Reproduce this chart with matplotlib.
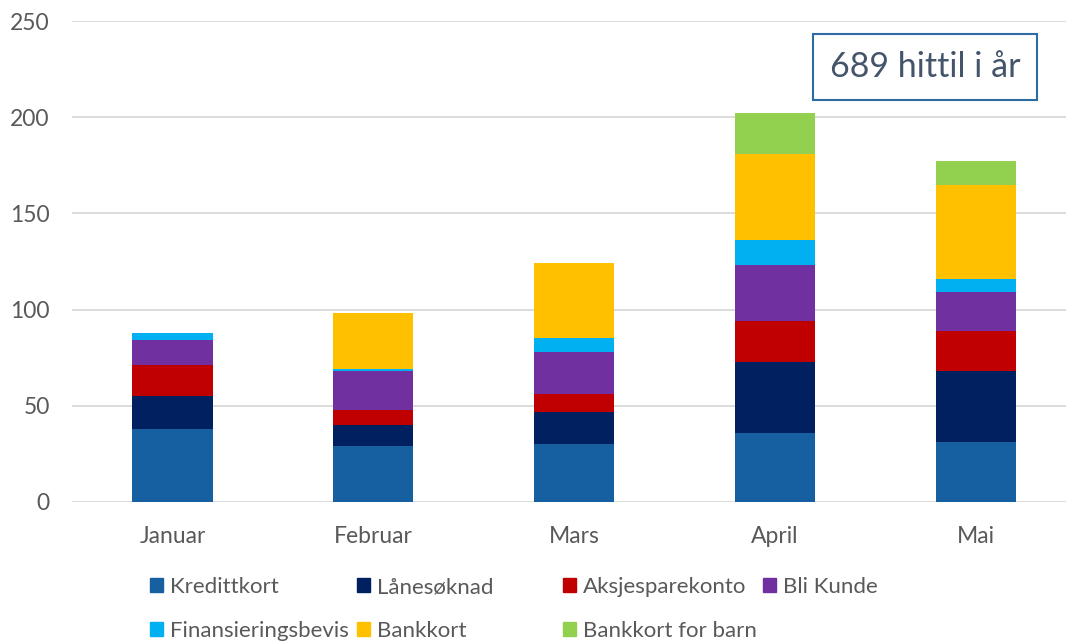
import matplotlib
matplotlib.use("Agg")
from matplotlib import pyplot as plt
from matplotlib.patches import Patch
import numpy as np

plt.rcParams['font.family'] = ['Lato', 'DejaVu Sans']

months = ["Januar", "Februar", "Mars", "April", "Mai"]
series = ["Kredittkort", "Lånesøknad", "Aksjesparekonto", "Bli Kunde",
          "Finansieringsbevis", "Bankkort", "Bankkort for barn"]
kredittkort = [38, 29, 30, 36, 31]
lanesoknad = [17, 11, 17, 37, 37]
aksjesparekonto = [16, 8, 9, 21, 21]
bli_kunde = [13, 20, 22, 29, 20]
finansieringsbevis = [4, 1, 7, 13, 7]
bankkort = [0, 29, 39, 45, 49]
bankkort_barn = [0, 0, 0, 21, 12]
colors = ["#1660A2", "#002060", "#C00000", "#7030A0", "#00B0F0", "#FFC000", "#92D050"]
box_text = "689 hittil i år"

data = [kredittkort, lanesoknad, aksjesparekonto, bli_kunde,
        finansieringsbevis, bankkort, bankkort_barn]

W, H = 1066, 642
fig = plt.figure(figsize=(W / 100, H / 100), dpi=100)
ax = fig.add_axes([72 / W, (H - 502) / H, 1004.4 / W, 481 / H])

x = np.arange(len(months))
bottom = np.zeros(len(months))
for name, vals, c in zip(series, data, colors):
    ax.bar(x, vals, 0.4, bottom=bottom, color=c, label=name, zorder=3)
    bottom += np.array(vals)

ax.set_xlim(-0.5, len(months) - 0.5)
ax.set_ylim(0, 250)
ax.set_yticks(range(0, 251, 50))
ax.set_xticks(x)
ax.set_xticklabels(months)
ax.grid(axis='y', color='#D9D9D9', linewidth=1.3, zorder=0)
for s in ax.spines.values():
    s.set_visible(False)
ax.tick_params(length=0, labelsize=16.5, colors='#595959')
ax.tick_params(axis='x', pad=17)
ax.tick_params(axis='y', pad=16)

# text box
fig.text(925 / W, 1 - 67 / H, box_text, ha='center', va='center',
         fontsize=24.5, color='#44546A',
         bbox=dict(boxstyle='square,pad=0.5', fc='white', ec='#2E6CA4', lw=1.5))

# legend, one entry each to mimic Excel layout
pos = [(150, 587), (357, 587), (563, 587), (763, 587),
       (150, 631), (357, 631), (563, 631)]
for (px, py), name, c in zip(pos, series, colors):
    lg = fig.legend(handles=[Patch(color=c)], labels=[name], loc='center left',
                    bbox_to_anchor=(px / W, 1 - py / H), frameon=False,
                    fontsize=16, handlelength=0.6, handleheight=0.6,
                    handletextpad=0.3, borderpad=0, borderaxespad=0)
    for t in lg.get_texts():
        t.set_color('#595959')

fig.savefig("out.png", dpi=100)
